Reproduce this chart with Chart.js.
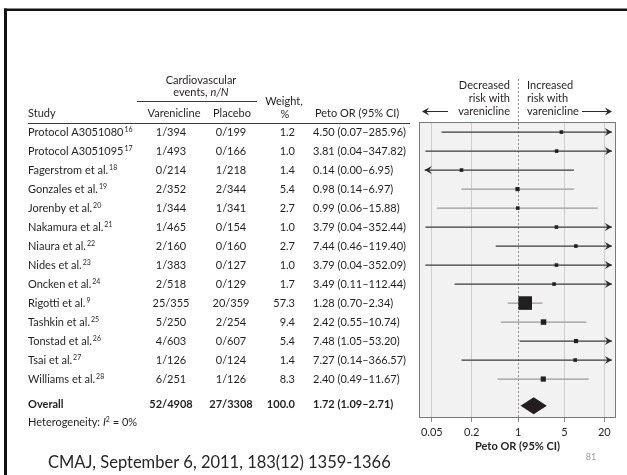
<!DOCTYPE html>
<html>
<head>
<meta charset="utf-8">
<title>Varenicline and cardiovascular events – forest plot</title>
<script src="https://cdn.jsdelivr.net/npm/chart.js@4/dist/chart.umd.min.js"></script>
<style>
  html, body { margin: 0; padding: 0; background: #ffffff; }
  #wrap { position: relative; width: 627px; height: 475px; }
  canvas { display: block; }
</style>
</head>
<body>
<div id="wrap"><canvas id="forest" width="627" height="475" style="width:627px;height:475px"></canvas></div>
<script>
// ---- study data ----
const studies = ['Protocol A3051080', 'Protocol A3051095', 'Fagerstrom et al.', 'Gonzales et al.',
  'Jorenby et al.', 'Nakamura et al.', 'Niaura et al.', 'Nides et al.', 'Oncken et al.',
  'Rigotti et al.', 'Tashkin et al.', 'Tonstad et al.', 'Tsai et al.', 'Williams et al.'];
const refNotes = ['16', '17', '18', '19', '20', '21', '22', '23', '24', '9', '25', '26', '27', '28'];
const vareEvents = [1, 1, 0, 2, 1, 1, 2, 1, 2, 25, 5, 4, 1, 6];
const vareTotal = [394, 493, 214, 352, 344, 465, 160, 383, 518, 355, 250, 603, 126, 251];
const placEvents = [0, 0, 1, 2, 1, 0, 0, 0, 0, 20, 2, 0, 0, 1];
const placTotal = [199, 166, 218, 344, 341, 154, 160, 127, 129, 359, 254, 607, 124, 126];
const weights = [1.2, 1.0, 1.4, 5.4, 2.7, 1.0, 2.7, 1.0, 1.7, 57.3, 9.4, 5.4, 1.4, 8.3];
const petoOR = [4.50, 3.81, 0.14, 0.98, 0.99, 3.79, 7.44, 3.79, 3.49, 1.28, 2.42, 7.48, 7.27, 2.40];
const ciLow = [0.07, 0.04, 0.00, 0.14, 0.06, 0.04, 0.46, 0.04, 0.11, 0.70, 0.55, 1.05, 0.14, 0.49];
const ciHigh = [285.96, 347.82, 6.95, 6.97, 15.88, 352.44, 119.40, 352.09, 112.44, 2.34, 10.74, 53.20, 366.57, 11.67];

// pooled result
const overallVarenicline = [52, 4908];
const overallPlacebo = [27, 3308];
const overallWeight = 100.0;
const overallOR = [1.72, 1.09, 2.71];
const heterogeneityI2 = 0;

// axis
const axisTicks = [0.05, 0.2, 1, 5, 20];

// ---- drawing setup ----
const FONT = 'Lato, "Open Sans", sans-serif';
const INK = '#231f20';
const X_MIN = 0.032, X_MAX = 30;        // visible odds-ratio range
const CLIP_LO = 0.039, CLIP_HI = 26;    // where truncated intervals end in an arrow
const Y_MIN = -0.53, Y_MAX = 15.05;     // row units, top to bottom
const OVERALL_ROW = 14.35;
const HETERO_ROW = 15.3;

const fmt2 = v => v.toFixed(2);
const ciText = (o, l, h) => `${fmt2(o)} (${fmt2(l)}\u2013${fmt2(h)})`;
const isTruncated = i => ciLow[i] < CLIP_LO || ciHigh[i] > CLIP_HI;
const squareSide = i => Math.max(3.6, 13.6 * Math.sqrt(weights[i] / 57.3));

const ciDatasets = studies.map((name, i) => ({
  label: name,
  showLine: true,
  data: [{ x: Math.max(ciLow[i], CLIP_LO), y: i }, { x: Math.min(ciHigh[i], CLIP_HI), y: i }],
  borderColor: isTruncated(i) ? '#3a3a3a' : '#9a9a9a',
  borderWidth: 1.3,
  pointRadius: 0,
  order: 2
}));

const estimateDataset = {
  label: 'Peto OR',
  data: petoOR.map((v, i) => ({ x: v, y: i })),
  pointStyle: 'rect',
  pointRadius: ctx => squareSide(ctx.dataIndex) / (2 * Math.SQRT1_2),
  pointHoverRadius: ctx => squareSide(ctx.dataIndex) / (2 * Math.SQRT1_2),
  backgroundColor: INK,
  borderWidth: 0,
  order: 0
};

function put(ctx, s, x, y, align, font, color) {
  ctx.font = font;
  ctx.fillStyle = color || INK;
  ctx.textAlign = align;
  ctx.textBaseline = 'middle';
  ctx.fillText(s, x, y);
  return ctx.measureText(s).width;
}

function arrowHead(ctx, x, y, dir, color) {
  ctx.beginPath();
  ctx.moveTo(x, y);
  ctx.lineTo(x - dir * 7, y - 4);
  ctx.lineTo(x - dir * 4.5, y);
  ctx.lineTo(x - dir * 7, y + 4);
  ctx.closePath();
  ctx.fillStyle = color;
  ctx.fill();
}

const forestPlugin = {
  id: 'forestDecor',
  beforeDraw(chart) {
    const { ctx, chartArea: a } = chart;
    ctx.save();
    ctx.fillStyle = '#f2f2f2';
    ctx.fillRect(a.left, a.top, a.right - a.left, a.bottom - a.top);
    ctx.restore();
  },
  beforeDatasetsDraw(chart) {
    const { ctx, chartArea: a, scales: { x } } = chart;
    ctx.save();
    // line of no effect
    const x1 = Math.round(x.getPixelForValue(1)) + 0.5;
    ctx.strokeStyle = '#8f8f8f';
    ctx.lineWidth = 1;
    ctx.setLineDash([2, 2]);
    ctx.beginPath();
    ctx.moveTo(x1, 79);
    ctx.lineTo(x1, a.bottom);
    ctx.stroke();
    ctx.setLineDash([]);
    // panel frame
    ctx.strokeStyle = '#7a7a7a';
    ctx.strokeRect(a.left + 0.5, a.top + 0.5, a.right - a.left - 1, a.bottom - a.top - 1);
    ctx.restore();
  },
  afterDatasetsDraw(chart) {
    const { ctx, scales: { x, y } } = chart;
    ctx.save();
    studies.forEach((_, i) => {
      const py = y.getPixelForValue(i);
      if (ciLow[i] < CLIP_LO) arrowHead(ctx, x.getPixelForValue(CLIP_LO), py, -1, '#2a2a2a');
      if (ciHigh[i] > CLIP_HI) arrowHead(ctx, x.getPixelForValue(CLIP_HI), py, 1, '#2a2a2a');
    });
    // pooled estimate diamond
    const dy = y.getPixelForValue(OVERALL_ROW) + 1;
    ctx.beginPath();
    ctx.moveTo(x.getPixelForValue(overallOR[1]), dy);
    ctx.lineTo(x.getPixelForValue(overallOR[0]), dy - 8.5);
    ctx.lineTo(x.getPixelForValue(overallOR[2]), dy);
    ctx.lineTo(x.getPixelForValue(overallOR[0]), dy + 8.5);
    ctx.closePath();
    ctx.fillStyle = INK;
    ctx.fill();
    ctx.restore();
  },
  afterDraw(chart) {
    const { ctx, scales: { y } } = chart;
    ctx.save();
    const f = `11px ${FONT}`;
    const fb = `bold 11px ${FONT}`;
    const fi = `italic 11px ${FONT}`;
    const fs = `7px ${FONT}`;

    // column headings
    put(ctx, 'Cardiovascular', 201, 80, 'center', f);
    ctx.font = f;
    const w1 = ctx.measureText('events, ').width;
    ctx.font = fi;
    const w2 = ctx.measureText('n/N').width;
    const ex = 201 - (w1 + w2) / 2;
    put(ctx, 'events, ', ex, 92, 'left', f);
    put(ctx, 'n/N', ex + w1, 92, 'left', fi);
    ctx.strokeStyle = '#3a3a3a';
    ctx.lineWidth = 1;
    ctx.beginPath();
    ctx.moveTo(137, 101.5); ctx.lineTo(257, 101.5);
    ctx.stroke();
    put(ctx, 'Study', 28, 113, 'left', f);
    put(ctx, 'Varenicline', 174, 113, 'center', f);
    put(ctx, 'Placebo', 232, 113, 'center', f);
    put(ctx, 'Weight,', 284, 101, 'center', f);
    put(ctx, '%', 285, 114, 'center', f);
    put(ctx, 'Peto OR (95% CI)', 315, 113, 'left', f);
    ctx.beginPath();
    ctx.moveTo(28, 123.5); ctx.lineTo(410, 123.5);
    ctx.stroke();

    // direction labels above the panel
    ['Decreased', 'risk with', 'varenicline'].forEach((s, k) => put(ctx, s, 510, 85 + k * 13.3, 'right', f));
    ['Increased', 'risk with', 'varenicline'].forEach((s, k) => put(ctx, s, 527, 85 + k * 13.3, 'left', f));
    ctx.strokeStyle = '#2a2a2a';
    ctx.beginPath();
    ctx.moveTo(448, 111.5); ctx.lineTo(426, 111.5);
    ctx.moveTo(582, 111.5); ctx.lineTo(608, 111.5);
    ctx.stroke();
    arrowHead(ctx, 422, 111.5, -1, '#2a2a2a');
    arrowHead(ctx, 612, 111.5, 1, '#2a2a2a');

    // study rows
    studies.forEach((name, i) => {
      const py = y.getPixelForValue(i) + 0.5;
      const w = put(ctx, name, 28, py, 'left', f);
      put(ctx, refNotes[i], 28 + w + 1, py - 3, 'left', fs);
      put(ctx, `${vareEvents[i]}/${vareTotal[i]}`, 171, py, 'center', f);
      put(ctx, `${placEvents[i]}/${placTotal[i]}`, 231, py, 'center', f);
      put(ctx, weights[i].toFixed(1), 295, py, 'right', f);
      put(ctx, ciText(petoOR[i], ciLow[i], ciHigh[i]), 313, py, 'left', f);
    });

    // pooled row
    const oy = y.getPixelForValue(OVERALL_ROW);
    put(ctx, 'Overall', 28, oy, 'left', fb);
    put(ctx, `${overallVarenicline[0]}/${overallVarenicline[1]}`, 171, oy, 'center', fb);
    put(ctx, `${overallPlacebo[0]}/${overallPlacebo[1]}`, 231, oy, 'center', fb);
    put(ctx, overallWeight.toFixed(1), 295, oy, 'right', fb);
    put(ctx, ciText(overallOR[0], overallOR[1], overallOR[2]), 313, oy, 'left', fb);

    const hy = y.getPixelForValue(HETERO_ROW);
    let hx = 28;
    hx += put(ctx, 'Heterogeneity: ', hx, hy, 'left', f);
    hx += put(ctx, 'I', hx, hy, 'left', fi);
    hx += put(ctx, '2', hx, hy - 3, 'left', fs);
    put(ctx, ` = ${heterogeneityI2}%`, hx, hy, 'left', f);

    // slide furniture
    put(ctx, '81', 591, 457, 'center', `9px ${FONT}`, '#9a9a9a');
    put(ctx, 'CMAJ, September 6, 2011, 183(12) 1359-1366', 48, 463, 'left', `16.5px ${FONT}`, '#262626');
    ctx.fillStyle = '#111111';
    ctx.fillRect(4, 8.5, 623, 2.5);
    ctx.fillRect(4, 8.5, 3, 467);
    ctx.restore();
  }
};

new Chart(document.getElementById('forest'), {
  type: 'scatter',
  data: { datasets: [estimateDataset, ...ciDatasets] },
  options: {
    responsive: false,
    animation: false,
    events: [],
    layout: { padding: { left: 419, right: 11, top: 122, bottom: 0 } },
    plugins: { legend: { display: false }, tooltip: { enabled: false }, title: { display: false } },
    scales: {
      x: {
        type: 'logarithmic',
        min: X_MIN,
        max: X_MAX,
        afterBuildTicks: s => { s.ticks = axisTicks.map(v => ({ value: v })); },
        afterFit: s => { s.height = 57; },
        ticks: {
          autoSkip: false, maxRotation: 0, padding: 4, color: INK,
          font: { family: FONT, size: 11 },
          callback: v => String(v)
        },
        grid: {
          color: c => (c.tick && c.tick.value === 1) ? 'rgba(0,0,0,0)' : '#cdcdcd',
          tickColor: '#8a8a8a',
          tickLength: 4,
          lineWidth: 1
        },
        border: { display: false },
        title: {
          display: true, text: 'Peto OR (95% CI)', color: INK,
          font: { family: FONT, size: 11, weight: 'bold' },
          padding: { top: 0, bottom: 22 }
        }
      },
      y: { type: 'linear', min: Y_MIN, max: Y_MAX, reverse: true, display: false }
    }
  },
  plugins: [forestPlugin]
});
</script>
</body>
</html>
